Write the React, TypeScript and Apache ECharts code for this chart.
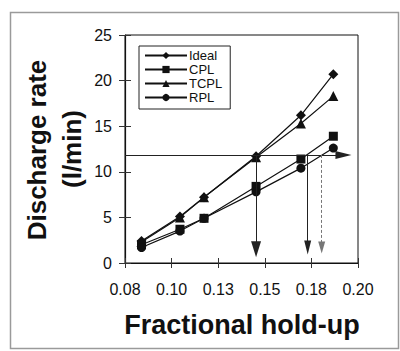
import React, { useEffect, useRef } from "react";
import * as echarts from "echarts";

const holdUp = [0.0885, 0.1083, 0.1207, 0.1475, 0.1706, 0.1873];
const idealRate = [2.4, 5.1, 7.2, 11.7, 16.2, 20.7];
const cplRate = [2.0, 3.7, 4.9, 8.4, 11.4, 13.9];
const tcplRate = [2.3, 5.0, 7.2, 11.6, 15.3, 18.3];
const rplRate = [1.7, 3.5, 4.9, 7.8, 10.4, 12.6];
const seriesNames = ["Ideal", "CPL", "TCPL", "RPL"];
const seriesSymbols = ["diamond", "rect", "triangle", "circle"];
const seriesSizes = [10, 9, 10, 9];
const targetRate = 11.85;
const arrowX = [0.1475, 0.1741, 0.1813];
const arrowEnd = [1.5, 1.7, 1.7];
const hArrowEnd = 0.1925;
const xTickLabels = ["0.08", "0.10", "0.13", "0.15", "0.18", "0.20"];

const FONT = "'Liberation Sans', Arial, Helvetica, sans-serif";

export default function App() {
  const ref = useRef<HTMLDivElement>(null);
  useEffect(() => {
    if (!ref.current) return;
    const chart = echarts.init(ref.current, null, { renderer: "svg" });
    const values = [idealRate, cplRate, tcplRate, rplRate];
    const series: any[] = seriesNames.map((name, i) => ({
      name,
      type: "line",
      data: holdUp.map((x, j) => [x, values[i][j]]),
      symbol: seriesSymbols[i],
      symbolSize: seriesSizes[i],
      showSymbol: true,
      lineStyle: { color: "#111", width: 1.2 },
      itemStyle: { color: "#111" },
      z: 3,
    }));
    const xMin = 0.08;
    const xMax = 0.2;
    series.push({
      name: "arrows",
      type: "line",
      data: [],
      silent: true,
      markLine: {
        silent: true,
        animation: false,
        label: { show: false },
        symbol: ["none", "triangle"],
        lineStyle: { color: "#222", width: 1, type: "solid" },
        data: [
          [
            { coord: [xMin, targetRate], symbol: "none" },
            { coord: [hArrowEnd, targetRate], symbol: "triangle", symbolSize: [8, 16] },
          ],
          [
            { coord: [arrowX[0], targetRate], symbol: "none" },
            { coord: [arrowX[0], arrowEnd[0]], symbol: "triangle", symbolSize: [10, 16] },
          ],
          [
            { coord: [arrowX[1], targetRate], symbol: "none" },
            { coord: [arrowX[1], arrowEnd[1]], symbol: "triangle", symbolSize: [7, 14] },
          ],
          [
            { coord: [arrowX[2], targetRate], symbol: "none", lineStyle: { color: "#777", type: [3, 2], width: 1 } },
            { coord: [arrowX[2], arrowEnd[2]], symbol: "triangle", symbolSize: [7, 12], itemStyle: { color: "#333" } },
          ],
        ],
      },
    });

    const baseX = {
      type: "value",
      min: xMin,
      max: xMax,
      interval: 0.024,
      position: "bottom",
      splitLine: { show: false },
      axisLine: { show: true, onZero: false, lineStyle: { color: "#111", width: 1.2 } },
    };
    const baseY = {
      type: "value",
      min: 0,
      max: 25,
      interval: 5,
      position: "left",
      splitLine: { show: false },
      axisLine: { show: true, onZero: false, lineStyle: { color: "#111", width: 1.2 } },
    };

    chart.setOption({
      animation: false,
      backgroundColor: "#fff",
      grid: {
        left: 125,
        top: 35,
        width: 233,
        height: 228,
        show: true,
        borderColor: "#111",
        borderWidth: 1,
        containLabel: false,
      },
      legend: {
        data: seriesNames,
        orient: "vertical",
        left: 139,
        top: 46,
        borderColor: "#222",
        borderWidth: 1,
        borderRadius: 0,
        padding: [3, 8, 5, 5],
        itemWidth: 42,
        itemHeight: 9,
        itemGap: 1,
        textStyle: {
          fontFamily: "'Liberation Sans Narrow', " + FONT,
          fontSize: 13,
          lineHeight: 13,
          color: "#111",
          padding: [0, 0, 0, -3],
        },
      },
      xAxis: [
        {
          ...baseX,
          axisTick: { show: true, inside: false, length: 5, lineStyle: { color: "#333" } },
          axisLabel: {
            margin: 18,
            fontFamily: FONT,
            fontSize: 16,
            color: "#111",
            formatter: (v: number) => {
              const idx = Math.round((v - xMin) / 0.024);
              return xTickLabels[idx] ?? v.toFixed(2);
            },
          },
        },
        {
          ...baseX,
          axisLine: { show: false },
          axisTick: { show: true, inside: true, length: 5, lineStyle: { color: "#333" } },
          axisLabel: { show: false },
        },
      ],
      yAxis: [
        {
          ...baseY,
          axisTick: { show: true, inside: false, length: 6, lineStyle: { color: "#333" } },
          axisLabel: { margin: 13, fontFamily: FONT, fontSize: 16, color: "#111" },
        },
        {
          ...baseY,
          axisLine: { show: false },
          axisTick: { show: true, inside: true, length: 6, lineStyle: { color: "#333" } },
          axisLabel: { show: false },
        },
      ],
      graphic: [
        {
          type: "rect",
          shape: { x: 10.5, y: 12.5, width: 388, height: 336 },
          style: { fill: "none", stroke: "#9a9a9a", lineWidth: 1.5 },
          silent: true,
          z: -1,
        },
        {
          type: "text",
          x: 37,
          y: 150,
          rotation: Math.PI / 2,
          style: {
            text: "Discharge rate",
            font: "bold 26px " + FONT,
            fill: "#111",
            textAlign: "center",
            textVerticalAlign: "middle",
          },
        },
        {
          type: "text",
          x: 72,
          y: 149,
          rotation: Math.PI / 2,
          style: {
            text: "(l/min)",
            font: "bold 26px " + FONT,
            fill: "#111",
            textAlign: "center",
            textVerticalAlign: "middle",
          },
        },
        {
          type: "text",
          x: 242,
          y: 325,
          style: {
            text: "Fractional hold-up",
            font: "bold 27px " + FONT,
            fill: "#111",
            textAlign: "center",
            textVerticalAlign: "middle",
          },
        },
      ],
      series,
    });
    return () => chart.dispose();
  }, []);
  return <div ref={ref} style={{ width: 400, height: 351, position: "absolute", left: 0, top: 0 }} />;
}
